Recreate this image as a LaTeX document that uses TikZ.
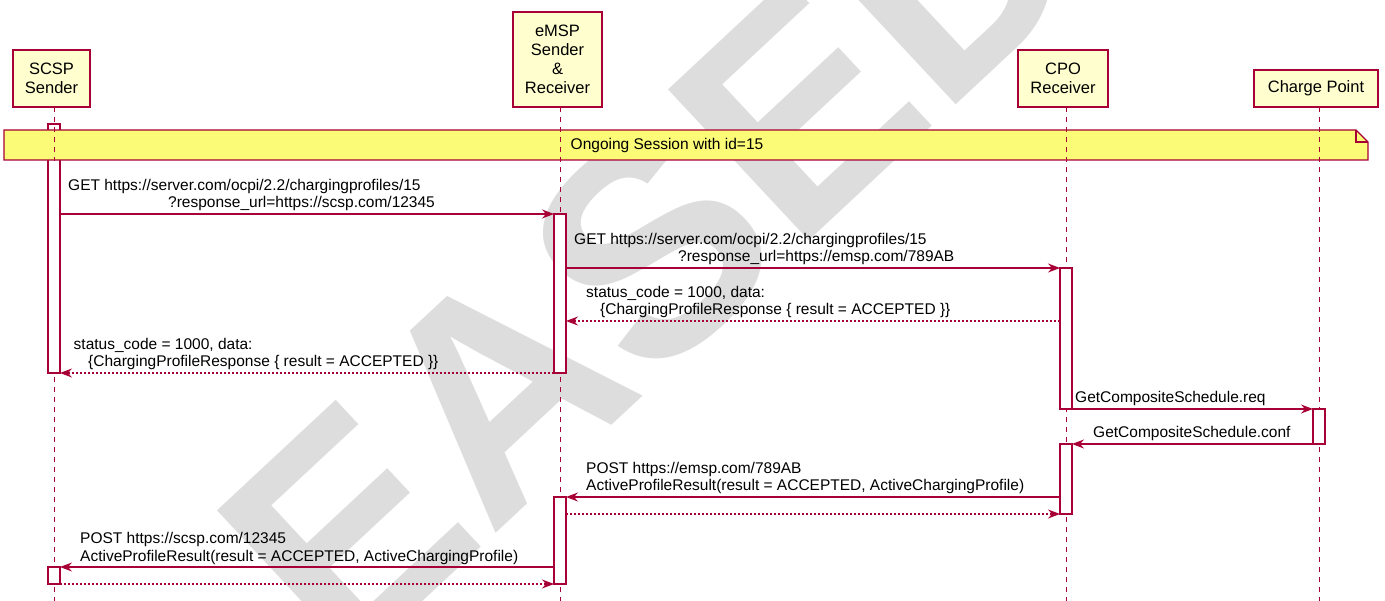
\documentclass[tikz,border=0pt]{standalone}
\usepackage{fontspec}
\setmainfont{Liberation Sans}
\usetikzlibrary{arrows.meta}
\definecolor{pborder}{HTML}{A80036}
\definecolor{pfill}{HTML}{FEFECE}
\definecolor{nfill}{HTML}{FBFB77}
\definecolor{wm}{HTML}{DDDDDD}
\begin{document}
\begin{tikzpicture}[x=1pt,y=-1pt,
  part/.style={draw=pborder, fill=pfill, line width=1.5pt, align=center, font=\fontsize{16.5}{19}\selectfont, inner sep=0pt},
  actbox/.style={draw=pborder, fill=white, line width=1.1pt},
  lifeline/.style={draw=pborder, line width=1pt, dash pattern=on 5pt off 5pt},
  msg/.style={draw=pborder, line width=1.1pt, -{Stealth[length=12pt,width=9pt,inset=4pt]}},
  ret/.style={msg, dash pattern=on 2pt off 2pt},
  lbl/.style={anchor=base west, inner sep=0pt, font=\fontsize{15.5}{17.5}\selectfont},
]
\useasboundingbox (0,0) rectangle (1385,601);
\fill[white] (0,0) rectangle (1385,601);
% watermark
\begin{scope}
\clip (0,0) rectangle (1385,601);
\node[text=wm, rotate=43, font=\fontsize{300}{300}\selectfont\bfseries, inner sep=0pt] (wmark) at (432,452) {RELEASED};
\end{scope}

% first SCSP activation (under the note)
\draw[actbox] (48,124) rectangle (60,373);

% note
\draw[draw=pborder, fill=nfill, line width=1.1pt] (4,130) -- (1356,130) -- (1368,142) -- (1368,160) -- (4,160) -- cycle;
\draw[draw=pborder, line width=1.1pt] (1356,130) -- (1356,142) -- (1368,142);
\node[lbl, anchor=base] (note) at (667,150) {Ongoing Session with id=15};

% lifelines
\coordinate (l1t) at (54,107);   \coordinate (l1b) at (54,601);
\coordinate (l2t) at (560,107);  \coordinate (l2b) at (560,601);
\coordinate (l3t) at (1066,107); \coordinate (l3b) at (1066,601);
\coordinate (l4t) at (1319,107); \coordinate (l4b) at (1319,601);
\draw[lifeline] (l1t) -- (l1b);
\draw[lifeline] (l2t) -- (l2b);
\draw[lifeline] (l3t) -- (l3b);
\draw[lifeline] (l4t) -- (l4b);

% participants
\node[part, minimum width=77pt, minimum height=57pt] (scsp) at (51.5,78.5) {SCSP\\Sender};
\node[part, minimum width=89pt, minimum height=95pt] (emsp) at (557.5,59.5) {eMSP\\Sender\\\&\\Receiver};
\node[part, minimum width=90pt, minimum height=57pt] (cpo) at (1063,78.5) {CPO\\Receiver};
\node[part, minimum width=124pt, minimum height=37pt] (cp) at (1316,88.5) {Charge Point};

% SCSP first activation continued below the note band
\fill[white] (48.6,160.6) rectangle (59.4,372.4);
\draw[draw=pborder, line width=1.1pt] (48,160.5) -- (48,373) -- (60,373) -- (60,160.5);

% activations
\draw[actbox] (554,214) rectangle (566,373);
\draw[actbox] (1060,268) rectangle (1072,409);
\draw[actbox] (1313,409) rectangle (1325,444);
\draw[actbox] (1060,444) rectangle (1072,514);
\draw[actbox] (554,497) rectangle (566,584);
\draw[actbox] (48,567) rectangle (60,584);

% message endpoints
\coordinate (m1s) at (60,214);   \coordinate (m1e) at (554,214);
\coordinate (m2s) at (566,268);  \coordinate (m2e) at (1060,268);
\coordinate (m3s) at (1060,321); \coordinate (m3e) at (566,321);
\coordinate (m4s) at (554,373);  \coordinate (m4e) at (60,373);
\coordinate (m5s) at (1072,409); \coordinate (m5e) at (1313,409);
\coordinate (m6s) at (1313,444); \coordinate (m6e) at (1072,444);
\coordinate (m7s) at (1060,497); \coordinate (m7e) at (566,497);
\coordinate (m8s) at (566,514);  \coordinate (m8e) at (1060,514);
\coordinate (m9s) at (554,567);  \coordinate (m9e) at (60,567);
\coordinate (m10s) at (60,584);  \coordinate (m10e) at (554,584);

\draw[msg] (m1s) -- (m1e);
\draw[msg] (m2s) -- (m2e);
\draw[ret] (m3s) -- (m3e);
\draw[ret] (m4s) -- (m4e);
\draw[msg] (m5s) -- (m5e);
\draw[msg] (m6s) -- (m6e);
\draw[msg] (m7s) -- (m7e);
\draw[ret] (m8s) -- (m8e);
\draw[msg] (m9s) -- (m9e);
\draw[ret] (m10s) -- (m10e);

% labels
\node[lbl] (t1a) at (68,190.5) {GET https://server.com/ocpi/2.2/chargingprofiles/15};
\node[lbl] (t1b) at (168,208) {?response\_url=https://scsp.com/12345};
\node[lbl] (t2a) at (574,244.5) {GET https://server.com/ocpi/2.2/chargingprofiles/15};
\node[lbl] (t2b) at (678,262) {?response\_url=https://emsp.com/789AB};
\node[lbl] (t3a) at (586,297.5) {status\_code = 1000, data:};
\node[lbl] (t3b) at (600,315) {\{ChargingProfileResponse \{ result = ACCEPTED \}\}};
\node[lbl] (t4a) at (73.5,349.5) {status\_code = 1000, data:};
\node[lbl] (t4b) at (88,367) {\{ChargingProfileResponse \{ result = ACCEPTED \}\}};
\node[lbl] (t5) at (1075,403) {GetCompositeSchedule.req};
\node[lbl] (t6) at (1093,438) {GetCompositeSchedule.conf};
\node[lbl] (t7a) at (586,473.5) {POST https://emsp.com/789AB};
\node[lbl] (t7b) at (586,491) {ActiveProfileResult(result = ACCEPTED, ActiveChargingProfile)};
\node[lbl] (t9a) at (80,543.5) {POST https://scsp.com/12345};
\node[lbl] (t9b) at (80,561) {ActiveProfileResult(result = ACCEPTED, ActiveChargingProfile)};
\end{tikzpicture}
\end{document}
